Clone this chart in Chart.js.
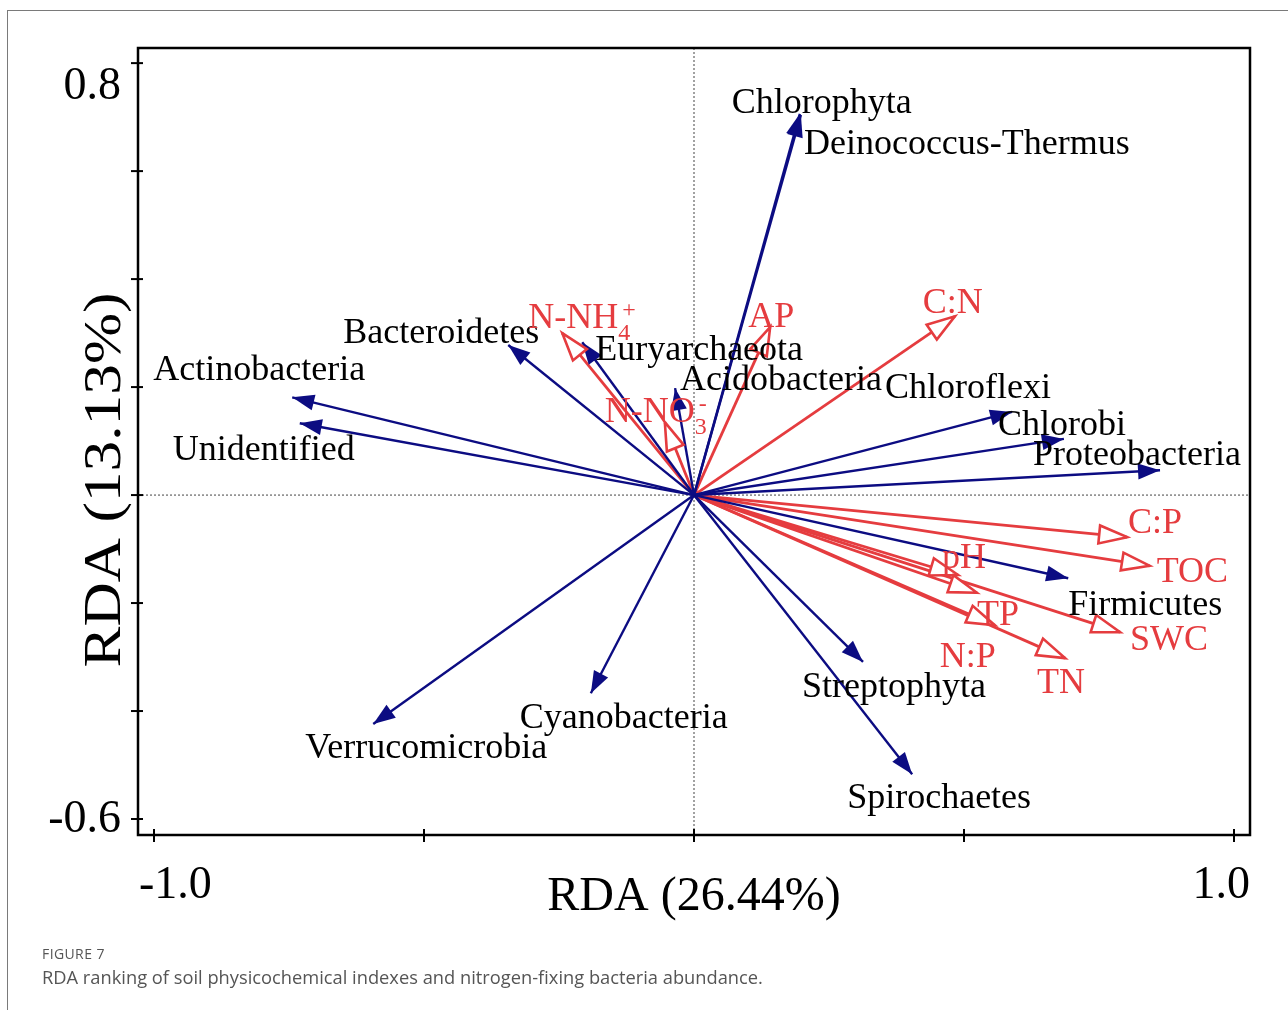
<!DOCTYPE html>
<html>
<head>
<meta charset="utf-8">
<script src="https://cdn.jsdelivr.net/npm/chart.js@4/dist/chart.umd.min.js"></script>
<style>
  html, body { margin: 0; padding: 0; background: #fff; }
  body { width: 1288px; height: 1010px; position: relative; overflow: hidden; }
  #frame { position: absolute; left: 7px; top: 10px; width: 1400px; height: 1100px;
           border-left: 1.5px solid #7a7a7a; border-top: 1.5px solid #7a7a7a; }
  #c { position: absolute; left: 0; top: 0; }
  .cap1 { position: absolute; left: 42px; top: 944px; font-family: "Open Sans", sans-serif;
          font-size: 14px; color: #555; letter-spacing: 0.4px; }
  .cap2 { position: absolute; left: 42px; top: 964px; font-family: "Open Sans", sans-serif;
          font-size: 18.3px; color: #555; }
</style>
</head>
<body>
<div id="frame"></div>
<canvas id="c" width="1288" height="1010"></canvas>
<div class="cap1">FIGURE 7</div>
<div class="cap2">RDA ranking of soil physicochemical indexes and nitrogen-fixing bacteria abundance.</div>
<script>
// ---------- DATA ----------
const speciesNames = ["Chlorophyta", "Deinococcus-Thermus", "Bacteroidetes", "Actinobacteria", "Unidentified",
  "Euryarchaeota", "Acidobacteria", "Chloroflexi", "Chlorobi", "Proteobacteria", "Firmicutes",
  "Streptophyta", "Spirochaetes", "Verrucomicrobia", "Cyanobacteria"];
const speciesX = [0.196, 0.198, -0.344, -0.744, -0.730, -0.207, -0.035, 0.589, 0.685, 0.863, 0.693, 0.313, 0.404, -0.594, -0.191];
const speciesY = [0.706, 0.704, 0.278, 0.181, 0.133, 0.283, 0.198, 0.154, 0.104, 0.046, -0.154, -0.309, -0.517, -0.424, -0.367];

const envNames = ["N-NH4+", "AP", "N-NO3-", "C:N", "C:P", "TOC", "SWC", "TN", "pH", "TP", "N:P"];
const envX = [-0.244, 0.141, -0.054, 0.483, 0.802, 0.844, 0.789, 0.687, 0.489, 0.524, 0.557];
const envY = [0.300, 0.311, 0.135, 0.331, -0.078, -0.131, -0.254, -0.302, -0.148, -0.181, -0.241];

const xTickValues = [-1.0, -0.5, 0, 0.5, 1.0];
const xTickLabels = ["-1.0", "", "", "", "1.0"];
const yTickValues = [0.8, 0.6, 0.4, 0.2, 0, -0.2, -0.4, -0.6];
const yTickLabels = ["0.8", "", "", "", "", "", "", "-0.6"];
const xTitle = "RDA (26.44%)";
const yTitle = "RDA (13.13%)";

// ---------- LAYOUT / STYLE (pixel offsets of labels from arrow tips) ----------
const speciesLabelOffsets = [[-68,-1],[3,39],[-165,-2],[-139,-17],[-127,37],[13,18],[5,2],[-127,-14],
  [-66,-4],[-127,-5],[0,37],[-61,35],[-65,34],[-68,34],[-71,35]];
const envLabelOffsets = [[-34,-5],[-22,0],[-60,0],[-32,-3],[1,-4],[7,16],[10,18],[-28,35],[-16,-7],[0,32],[-55,42]];
const BLUE = "#0c0c82";
const RED = "#e53c3f";
const SERIF = '"Liberation Serif", "Times New Roman", serif';

const datasets = [];
speciesNames.forEach((n, i) => datasets.push({
  label: n, data: [{x: 0, y: 0}, {x: speciesX[i], y: speciesY[i]}],
  showLine: true, borderColor: BLUE, borderWidth: 2.4, pointRadius: 0, kind: "sp", idx: i
}));
envNames.forEach((n, i) => datasets.push({
  label: n, data: [{x: 0, y: 0}, {x: envX[i], y: envY[i]}],
  showLine: true, borderColor: RED, borderWidth: 2.8, pointRadius: 0, kind: "env", idx: i
}));

function drawLabel(ctx, name, x, y, color) {
  ctx.fillStyle = color;
  ctx.textAlign = "left";
  ctx.textBaseline = "alphabetic";
  const big = "36px " + SERIF, small = "24px " + SERIF;
  if (name === "N-NH4+" || name === "N-NO3-") {
    const base = name.slice(0, 4), sub = name[4], sup = name[5];
    ctx.font = big; ctx.fillText(base, x, y);
    const w = ctx.measureText(base).width;
    ctx.font = small;
    ctx.fillText(sub, x + w, y + 12);
    ctx.fillText(sup === "-" ? "-" : "+", x + w + 4, y - 11);
  } else {
    ctx.font = big; ctx.fillText(name, x, y);
  }
}

const rdaPlugin = {
  id: "rda",
  beforeDatasetsDraw(chart) {
    const {ctx, chartArea: a, scales: {x, y}} = chart;
    ctx.save();
    ctx.strokeStyle = "#444"; ctx.lineWidth = 1; ctx.setLineDash([2, 2]);
    const x0 = x.getPixelForValue(0), y0 = y.getPixelForValue(0);
    ctx.beginPath(); ctx.moveTo(x0, a.top); ctx.lineTo(x0, a.bottom); ctx.stroke();
    ctx.beginPath(); ctx.moveTo(a.left, y0); ctx.lineTo(a.right, y0); ctx.stroke();
    ctx.restore();
  },
  afterDatasetsDraw(chart) {
    const {ctx, chartArea: a, scales: {x, y}} = chart;
    ctx.save();
    // arrow heads
    chart.data.datasets.forEach(ds => {
      const p = ds.data[1];
      const tx = x.getPixelForValue(p.x), ty = y.getPixelForValue(p.y);
      const ox = x.getPixelForValue(0), oy = y.getPixelForValue(0);
      const ang = Math.atan2(ty - oy, tx - ox);
      const L = ds.kind === "sp" ? 22 : 28, H = ds.kind === "sp" ? 8 : 9;
      const bx = tx - L * Math.cos(ang), by = ty - L * Math.sin(ang);
      const nx = -Math.sin(ang), ny = Math.cos(ang);
      ctx.beginPath();
      ctx.moveTo(tx, ty);
      ctx.lineTo(bx + H * nx, by + H * ny);
      ctx.lineTo(bx - H * nx, by - H * ny);
      ctx.closePath();
      if (ds.kind === "sp") {
        ctx.fillStyle = BLUE; ctx.fill();
      } else {
        ctx.fillStyle = "#fff"; ctx.fill();
        ctx.strokeStyle = RED; ctx.lineWidth = 2.6; ctx.lineJoin = "miter"; ctx.stroke();
      }
    });
    // labels
    speciesNames.forEach((n, i) => {
      const tx = x.getPixelForValue(speciesX[i]), ty = y.getPixelForValue(speciesY[i]);
      drawLabel(ctx, n, tx + speciesLabelOffsets[i][0], ty + speciesLabelOffsets[i][1], "#000");
    });
    envNames.forEach((n, i) => {
      const tx = x.getPixelForValue(envX[i]), ty = y.getPixelForValue(envY[i]);
      drawLabel(ctx, n, tx + envLabelOffsets[i][0], ty + envLabelOffsets[i][1], RED);
    });
    ctx.restore();
  },
  afterDraw(chart) {
    const {ctx, chartArea: a, scales: {x, y}} = chart;
    ctx.save();
    // frame
    ctx.strokeStyle = "#000"; ctx.lineWidth = 2.5; ctx.setLineDash([]);
    ctx.strokeRect(a.left, a.top, a.right - a.left, a.bottom - a.top);
    // ticks
    ctx.lineWidth = 2;
    xTickValues.forEach(v => {
      const px = x.getPixelForValue(v);
      ctx.beginPath(); ctx.moveTo(px, a.bottom - 6); ctx.lineTo(px, a.bottom + 7); ctx.stroke();
    });
    yTickValues.forEach(v => {
      const py = y.getPixelForValue(v);
      ctx.beginPath(); ctx.moveTo(a.left - 7, py); ctx.lineTo(a.left + 5, py); ctx.stroke();
    });
    // tick labels
    ctx.fillStyle = "#000";
    ctx.font = "46px " + SERIF;
    ctx.textBaseline = "alphabetic";
    xTickValues.forEach((v, i) => {
      if (!xTickLabels[i]) return;
      const px = x.getPixelForValue(v);
      if (i === 0) { ctx.textAlign = "left"; ctx.fillText(xTickLabels[i], px - 15, a.bottom + 63); }
      else { ctx.textAlign = "right"; ctx.fillText(xTickLabels[i], px + 16, a.bottom + 63); }
    });
    ctx.textAlign = "right";
    yTickValues.forEach((v, i) => {
      if (!yTickLabels[i]) return;
      const py = y.getPixelForValue(v);
      ctx.fillText(yTickLabels[i], a.left - 17, py + (i === 0 ? 36 : 13));
    });
    // axis titles
    ctx.font = "48px " + SERIF;
    ctx.textAlign = "center";
    ctx.fillText(xTitle, x.getPixelForValue(0), a.bottom + 75);
    ctx.save();
    ctx.translate(120, 480);
    ctx.rotate(-Math.PI / 2);
    ctx.scale(1.18, 1);
    ctx.font = "52px " + SERIF;
    ctx.fillText(yTitle, 0, 0);
    ctx.restore();
    ctx.restore();
  }
};

new Chart(document.getElementById("c"), {
  type: "scatter",
  data: { datasets },
  options: {
    responsive: false,
    animation: false,
    layout: { padding: { left: 138, top: 48, right: 38, bottom: 175 } },
    plugins: { legend: { display: false }, tooltip: { enabled: false } },
    scales: {
      x: { type: "linear", min: -1.0296, max: 1.0296, display: false },
      y: { type: "linear", min: -0.6296, max: 0.828, display: false }
    }
  },
  plugins: [rdaPlugin]
});
</script>
</body>
</html>
